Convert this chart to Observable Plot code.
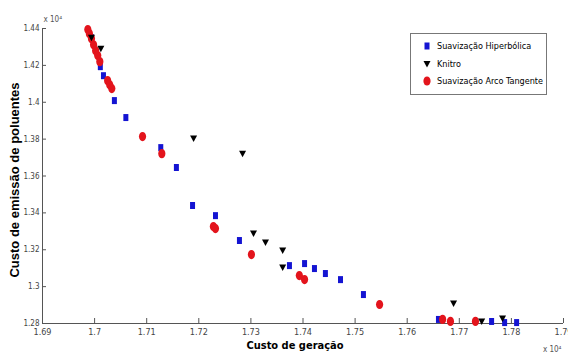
<!DOCTYPE html>
<html><head><meta charset="utf-8">
<script src="https://cdn.jsdelivr.net/npm/d3@7"></script>
<script src="https://cdn.jsdelivr.net/npm/@observablehq/plot@0.6"></script>
<style>
body{margin:0;background:#fff;}
#wrap{position:relative;width:568px;height:356px;overflow:hidden;}
#legend{position:absolute;left:410px;top:33px;width:137px;height:62px;border:1px solid #777;background:#fff;box-sizing:border-box;
 font-family:"Liberation Sans Narrow","DejaVu Sans Condensed","Liberation Sans",sans-serif;font-size:9px;color:#000;}
#legend .row{position:absolute;left:0;height:12px;line-height:12px;white-space:nowrap;}
#legend svg{position:absolute;left:10px;top:0;}
#legend span{position:absolute;left:26px;top:0;}
</style></head><body><div id="wrap"></div>
<script>
// Suavização Hiperbólica (blue squares)
const hipX = [16994,17011,17017,17038,17060,17127,17157,17188,17232,17278,17374,17403,17422,17443,17472,17516,17660,17762,17787,17810];
const hipY = [14350,14193,14144,14009,13917,13754,13646,13440,13385,13250,13114,13125,13098,13071,13038,12957,12822,12811,12805,12805];
// Knitro (black triangles)
const knitroX = [16994,17012,17190,17284,17305,17328,17361,17361,17689,17743,17783];
const knitroY = [14350,14290,13803,13721,13288,13239,13196,13104,12908,12811,12827];
// Suavização Arco Tangente (red circles)
const arcoX = [16987,16990,16994,16998,17002,17006,17010,17025,17029,17033,17092,17129,17228,17232,17301,17393,17403,17547,17668,17683,17731];
const arcoY = [14394,14372,14345,14312,14280,14253,14220,14117,14095,14074,13814,13721,13326,13315,13174,13060,13038,12903,12822,12811,12811];

const xTicks = [16900,17000,17100,17200,17300,17400,17500,17600,17700,17800,17900];
const yTicks = [12800,13000,13200,13400,13600,13800,14000,14200,14400];
const legendLabels = ["Suavização Hiperbólica","Knitro","Suavização Arco Tangente"];
const xLabel = "Custo de geração";
const yLabel = "Custo de emissão de poluentes";
const multiplier = "x 10⁴";

const colors = ["#1414d2","#000000","#e3141c"];

const rectSym = {draw(ctx){ ctx.rect(-2.5,-3.5,5,7); }};
const triSym = {draw(ctx){ ctx.moveTo(-3.5,-3); ctx.lineTo(3.5,-3); ctx.lineTo(0,3.5); ctx.closePath(); }};
const ellSym = {draw(ctx){
  const rx=3.6, ry=4.6, k=0.5523;
  ctx.moveTo(rx,0);
  ctx.bezierCurveTo(rx,ry*k,rx*k,ry,0,ry);
  ctx.bezierCurveTo(-rx*k,ry,-rx,ry*k,-rx,0);
  ctx.bezierCurveTo(-rx,-ry*k,-rx*k,-ry,0,-ry);
  ctx.bezierCurveTo(rx*k,-ry,rx,-ry*k,rx,0);
  ctx.closePath();
}};

const fmt = d => String(+(d/1e4).toFixed(2));
const toRows = (xs, ys) => xs.map((x,i)=>({x, y: ys[i]}));
const hip = toRows(hipX, hipY), knitro = toRows(knitroX, knitroY), arco = toRows(arcoX, arcoY);

const narrow = '"Liberation Sans Narrow","DejaVu Sans Condensed","Liberation Sans",sans-serif';

const chart = Plot.plot({
  width: 568, height: 356,
  marginLeft: 42, marginRight: 5, marginTop: 28, marginBottom: 33,
  x: {domain: [16900, 17900]},
  y: {domain: [12800, 14400]},
  style: {fontFamily: narrow, fontSize: "9px", background: "#fff", color: "#333"},
  marks: [
    Plot.axisX(xTicks, {tickSize: 0, tickPadding: 5, tickFormat: fmt, label: null, fill: "#444"}),
    Plot.axisX(xTicks, {tickSize: -5, tickFormat: () => "", label: null, stroke: "#555"}),
    Plot.axisY(yTicks, {tickSize: 0, tickPadding: 3, tickFormat: fmt, label: null, fill: "#444", fontSize: 8, letterSpacing: "-0.3px"}),
    Plot.axisY(yTicks, {tickSize: -4, tickFormat: () => "", label: null, stroke: "#555"}),
    Plot.ruleY([12800], {stroke: "#555"}),
    Plot.ruleX([16900], {stroke: "#555"}),
    Plot.dot(hip, {x: "x", y: "y", symbol: rectSym, fill: colors[0], stroke: "none"}),
    Plot.dot(arco, {x: "x", y: "y", symbol: ellSym, fill: colors[2], stroke: "none"}),
    Plot.dot(knitro, {x: "x", y: "y", symbol: triSym, fill: colors[1], stroke: "none"}),
    Plot.text([xLabel], {frameAnchor: "bottom", dx: -8, dy: 25, fontWeight: "bold", fontSize: 11, fill: "#000"}),
    Plot.text([yLabel], {frameAnchor: "left", textAnchor: "middle", rotate: -90, dx: -28, dy: 4, fontWeight: "bold", fontSize: 13, fill: "#000", fontFamily: '"Liberation Sans",Arial,sans-serif', letterSpacing: "1.3px"}),
    Plot.text([multiplier], {frameAnchor: "top-left", dx: 1, dy: -12, fontSize: 8, fill: "#555"}),
    Plot.text([multiplier], {frameAnchor: "bottom-right", dx: -2, dy: 28, fontSize: 8, fill: "#555"})
  ]
});
const wrap = document.getElementById("wrap");
wrap.appendChild(chart);

// legend
const leg = document.createElement("div");
leg.id = "legend";
const symPaths = [
  '<rect x="-2.5" y="-3.5" width="5" height="7" fill="'+colors[0]+'"/>',
  '<path d="M-3.5,-3L3.5,-3L0,3.5Z" fill="'+colors[1]+'"/>',
  '<ellipse rx="3.6" ry="4.6" fill="'+colors[2]+'"/>'
];
const rowTops = [6, 24, 41];
legendLabels.forEach((lab, i) => {
  const row = document.createElement("div");
  row.className = "row";
  row.style.top = rowTops[i] + "px";
  row.innerHTML = '<svg width="12" height="12" viewBox="-6 -6 12 12">' + symPaths[i] + '</svg><span>' + lab + '</span>';
  leg.appendChild(row);
});
wrap.appendChild(leg);
</script>
</body></html>
